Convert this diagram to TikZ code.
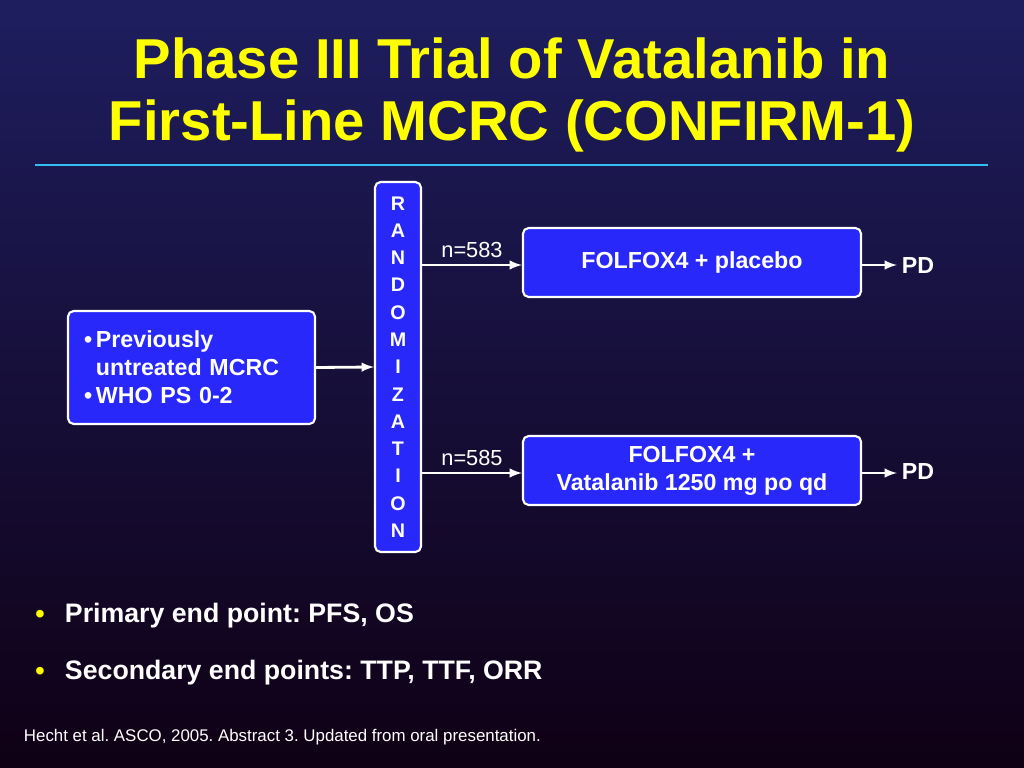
\documentclass[tikz,border=0pt]{standalone}
\usepackage{fontspec}
\setmainfont{Liberation Sans}
\usetikzlibrary{positioning}
\definecolor{trialblue}{RGB}{40,40,250}
\definecolor{titleyellow}{RGB}{255,255,0}
\tikzstyle{armbox} = [draw=white,line width=1.5pt,fill=trialblue,rounded corners=4pt,
  text=white,font=\bfseries\fontsize{16.5}{20}\selectfont,align=center]
\tikzstyle{feed} = [draw=white,line width=2pt,-latex]
\tikzstyle{nlabel} = [text=white,font=\fontsize{15.5}{18}\selectfont]
\tikzstyle{pdlabel} = [text=white,font=\bfseries\fontsize{16.5}{20}\selectfont]
\tikzstyle{point} = [text=white,font=\bfseries\fontsize{19}{23}\selectfont,anchor=west]
\tikzstyle{dot} = [text=titleyellow,font=\fontsize{20}{24}\selectfont]
\frenchspacing
\begin{document}
\begin{tikzpicture}[x=0.025cm,y=-0.025cm]
	\shade[top color={rgb,255:red,30;green,30;blue,95},bottom color={rgb,255:red,15;green,0;blue,20}]
	(0,0) rectangle (1024,768);
	\node[text=titleyellow,font=\bfseries\fontsize{40}{44}\selectfont,align=center] (title) at (512,95)
	{Phase III Trial of Vatalanib in\\First-Line MCRC (CONFIRM-1)};
	\draw[cyan!80!white,line width=2pt] (35,165) -- (988,165);
	
	\node[armbox,minimum width=46*0.025cm,minimum height=370*0.025cm,inner sep=0pt,
	font=\bfseries\fontsize{14}{19.4}\selectfont] (rand) at (398,367)
	{R\\A\\N\\D\\O\\M\\I\\Z\\A\\T\\I\\O\\N};
	\node[armbox,minimum width=247*0.025cm,minimum height=113*0.025cm,align=left,
	text width=215*0.025cm] (pts) at (191.5,367.5)
	{\textbullet\,Previously\\\phantom{\textbullet\,}untreated MCRC\\\textbullet\,WHO PS 0-2};
	\node[armbox,minimum width=338*0.025cm,minimum height=69*0.025cm] (plac) at (692,262.5)
	{FOLFOX4 + placebo};
	\node[armbox,minimum width=338*0.025cm,minimum height=69*0.025cm] (vata) at (692,470.5)
	{FOLFOX4 +\\Vatalanib 1250 mg po qd};
	\node[pdlabel] (pd1) at (918,266) {PD};
	\node[pdlabel] (pd2) at (918,472) {PD};
	
	\path[feed] (pts.east) -- (rand.west);
	\path[feed] (rand.east |- 0,265) -- node[nlabel,above=1pt] {n=583} (plac.west |- 0,265);
	\path[feed] (rand.east |- 0,473) -- node[nlabel,above=1pt] {n=585} (vata.west |- 0,473);
	\path[feed] (plac.east |- 0,265) -- (pd1.west |- 0,265);
	\path[feed] (vata.east |- 0,473) -- (pd2.west |- 0,473);
	
	\node[dot] (b1) at (40,617) {\textbullet};
	\node[point] (t1) at (60,616) {Primary end point: PFS, OS};
	\node[dot] (b2) at (40,674) {\textbullet};
	\node[point] (t2) at (60,673) {Secondary end points: TTP, TTF, ORR};
	\node[text=white,font=\fontsize{12}{14}\selectfont,anchor=west] (ref) at (19,737)
	{Hecht et al. ASCO, 2005. Abstract 3. Updated from oral presentation.};
\end{tikzpicture}
\end{document}
